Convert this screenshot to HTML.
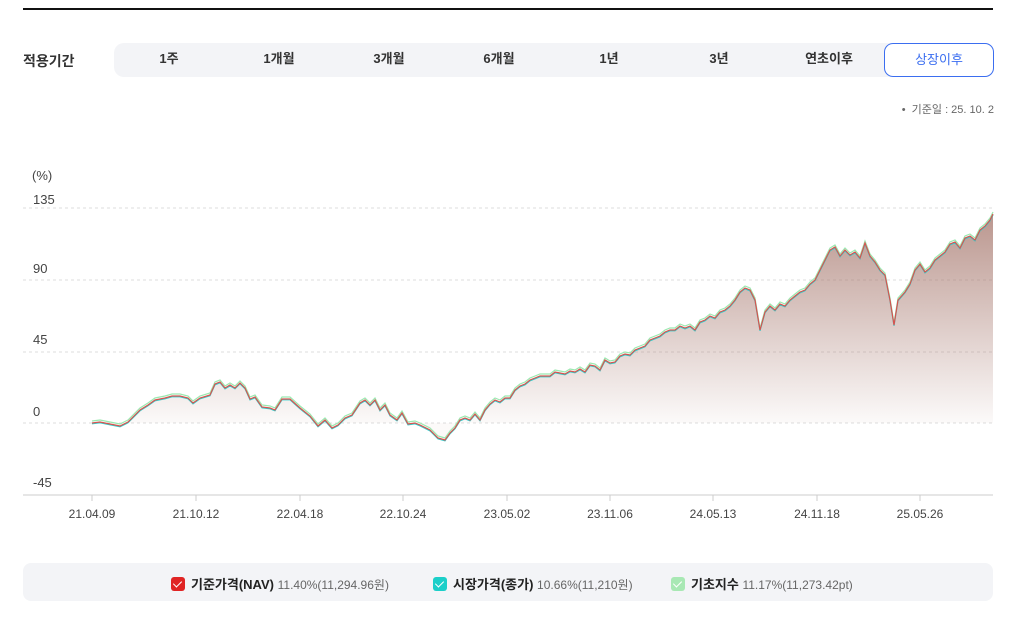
<!DOCTYPE html>
<html><head><meta charset="utf-8"><style>
body{margin:0;width:1024px;height:618px;background:#fff;font-family:"Liberation Sans","Noto Sans CJK KR",sans-serif;position:relative;overflow:hidden;color:#222}
.top{position:absolute;left:23px;top:8px;width:970px;height:2px;background:#111}
.lab{position:absolute;left:23px;top:51px;font-size:14px;font-weight:bold;color:#333}
.tabs{position:absolute;left:114px;top:43px;width:880px;height:34px;background:#f3f4f7;border-radius:10px}
.tab{position:absolute;top:0;height:34px;line-height:32px;font-size:13px;font-weight:bold;color:#333;text-align:center;width:110px}
.act{position:absolute;left:884px;top:43px;width:108px;height:32px;border:1px solid #3b6ef0;border-radius:9px;background:#fff;color:#3b6ef0;font-size:13px;text-align:center;line-height:32px}
.date{position:absolute;right:30px;top:101px;font-size:11px;color:#666}
.legend{position:absolute;left:23px;top:563px;width:970px;height:38px;background:#f3f4f7;border-radius:8px;font-size:13px}
.li{position:absolute;top:11px;white-space:nowrap}
.cb{display:inline-block;width:14px;height:14px;border-radius:3px;vertical-align:-2px;margin-right:6px;position:relative}
.cb:after{content:"";position:absolute;left:4px;top:2px;width:4px;height:7px;border:solid #fff;border-width:0 1.5px 1.5px 0;transform:rotate(45deg)}
.li b{color:#222}.li span{color:#666;font-size:12px}
</style></head><body>
<div class="top"></div>
<div class="lab">적용기간</div>
<div class="tabs">
<div class="tab" style="left:0">1주</div><div class="tab" style="left:110px">1개월</div><div class="tab" style="left:220px">3개월</div><div class="tab" style="left:330px">6개월</div><div class="tab" style="left:440px">1년</div><div class="tab" style="left:550px">3년</div><div class="tab" style="left:660px">연초이후</div>
</div>
<div class="act">상장이후</div>
<div class="date">• &nbsp;기준일 : 25. 10. 2</div>
<svg width="1024" height="618" style="position:absolute;left:0;top:0">
<defs><linearGradient id="g" gradientUnits="userSpaceOnUse" x1="0" y1="210" x2="0" y2="423"><stop offset="0" stop-color="#a87a70" stop-opacity="0.8"/><stop offset="1" stop-color="#a87a70" stop-opacity="0.04"/></linearGradient></defs>
<g font-size="13" fill="#444" font-family="Liberation Sans,sans-serif">
<text x="32" y="180">(%)</text><text x="33" y="204">135</text><text x="33" y="273">90</text><text x="33" y="344">45</text><text x="33" y="416">0</text><text x="33" y="487">-45</text>
</g>
<g stroke="#ddd" stroke-dasharray="3,3"><line x1="23" y1="208" x2="993" y2="208"/><line x1="23" y1="280" x2="993" y2="280"/><line x1="23" y1="352" x2="993" y2="352"/><line x1="23" y1="423" x2="993" y2="423"/></g>
<line x1="23" y1="495" x2="993" y2="495" stroke="#ccc"/>
<g stroke="#ccc"><line x1="92" y1="495" x2="92" y2="501"/><line x1="196" y1="495" x2="196" y2="501"/><line x1="300" y1="495" x2="300" y2="501"/><line x1="403" y1="495" x2="403" y2="501"/><line x1="507" y1="495" x2="507" y2="501"/><line x1="610" y1="495" x2="610" y2="501"/><line x1="713" y1="495" x2="713" y2="501"/><line x1="817" y1="495" x2="817" y2="501"/><line x1="920" y1="495" x2="920" y2="501"/></g>
<g font-size="12" fill="#444" text-anchor="middle"><text x="92" y="518">21.04.09</text><text x="196" y="518">21.10.12</text><text x="300" y="518">22.04.18</text><text x="403" y="518">22.10.24</text><text x="507" y="518">23.05.02</text><text x="610" y="518">23.11.06</text><text x="713" y="518">24.05.13</text><text x="817" y="518">24.11.18</text><text x="920" y="518">25.05.26</text></g>
<path id="p" d="M92,423 100,422 110,424 120,426 128,422 140,410 148,405 155,400 165,398 172,396 180,396 188,398 193,403 200,398 210,395 215,384 220,382 225,388 230,385 235,388 240,383 245,388 250,399 255,397 262,407 270,408 275,410 282,399 290,399 300,408 310,416 318,426 325,420 332,428 338,425 345,418 352,415 360,403 365,400 370,405 375,400 380,410 385,405 390,415 397,420 402,413 408,424 415,423 420,425 430,430 438,438 445,440 450,433 455,428 460,420 465,418 470,420 475,414 480,420 485,410 490,404 495,400 500,402 505,398 510,398 515,390 520,386 525,384 530,380 535,378 540,376 550,376 555,372 560,373 565,374 570,371 575,372 580,369 585,372 590,365 595,366 600,370 605,360 610,363 615,362 620,356 625,354 630,355 635,350 640,348 645,346 650,340 655,338 660,336 665,332 670,330 675,330 680,326 685,328 690,326 695,330 700,322 705,320 710,316 715,318 720,312 725,310 730,306 735,300 740,292 745,288 750,290 755,300 760,330 765,312 770,306 775,310 780,304 785,306 790,300 795,296 800,292 805,290 810,284 815,280 820,270 825,260 830,250 835,247 840,256 845,250 850,255 855,252 860,258 865,243 870,256 875,262 880,270 885,275 890,300 894,325 898,300 905,292 910,284 915,270 920,264 925,272 930,268 935,260 940,256 945,252 950,244 955,242 960,248 965,238 970,236 975,240 980,230 985,226 990,220 993,214" fill="none"/>
<path d="M92,423 100,422 110,424 120,426 128,422 140,410 148,405 155,400 165,398 172,396 180,396 188,398 193,403 200,398 210,395 215,384 220,382 225,388 230,385 235,388 240,383 245,388 250,399 255,397 262,407 270,408 275,410 282,399 290,399 300,408 310,416 318,426 325,420 332,428 338,425 345,418 352,415 360,403 365,400 370,405 375,400 380,410 385,405 390,415 397,420 402,413 408,424 415,423 420,425 430,430 438,438 445,440 450,433 455,428 460,420 465,418 470,420 475,414 480,420 485,410 490,404 495,400 500,402 505,398 510,398 515,390 520,386 525,384 530,380 535,378 540,376 550,376 555,372 560,373 565,374 570,371 575,372 580,369 585,372 590,365 595,366 600,370 605,360 610,363 615,362 620,356 625,354 630,355 635,350 640,348 645,346 650,340 655,338 660,336 665,332 670,330 675,330 680,326 685,328 690,326 695,330 700,322 705,320 710,316 715,318 720,312 725,310 730,306 735,300 740,292 745,288 750,290 755,300 760,330 765,312 770,306 775,310 780,304 785,306 790,300 795,296 800,292 805,290 810,284 815,280 820,270 825,260 830,250 835,247 840,256 845,250 850,255 855,252 860,258 865,243 870,256 875,262 880,270 885,275 890,300 894,325 898,300 905,292 910,284 915,270 920,264 925,272 930,268 935,260 940,256 945,252 950,244 955,242 960,248 965,238 970,236 975,240 980,230 985,226 990,220 993,214 L993,423 L92,423Z" fill="url(#g)"/>
<use href="#p" stroke="#9be8b0" stroke-width="1.2" transform="translate(0,-2)"/>
<use href="#p" stroke="#2ccfcf" stroke-width="1.2" transform="translate(0,0.8)"/>
<use href="#p" stroke="#d9534f" stroke-width="1.2"/>
</svg>
<div class="legend">
<div class="li" style="left:148px"><span class="cb" style="background:#e02424"></span><b>기준가격(NAV)</b> <span>11.40%(11,294.96원)</span></div>
<div class="li" style="left:410px"><span class="cb" style="background:#1ccfc9"></span><b>시장가격(종가)</b> <span>10.66%(11,210원)</span></div>
<div class="li" style="left:648px"><span class="cb" style="background:#a8e8b4"></span><b>기초지수</b> <span>11.17%(11,273.42pt)</span></div>
</div>
</body></html>
